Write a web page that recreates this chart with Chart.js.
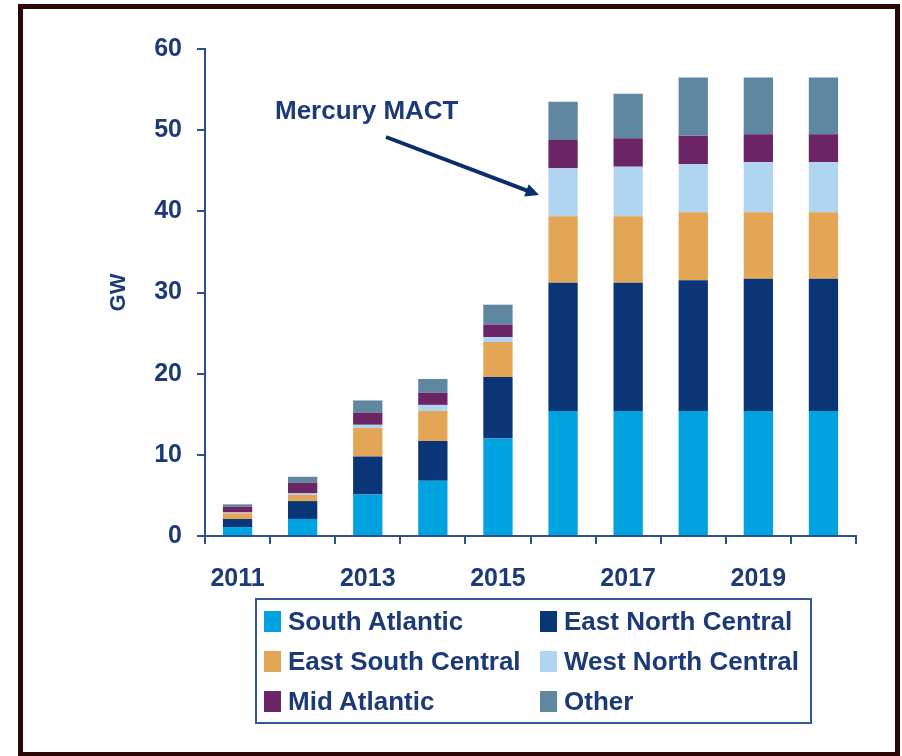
<!DOCTYPE html>
<html>
<head>
<meta charset="utf-8">
<script src="https://cdn.jsdelivr.net/npm/chart.js@4.4.1/dist/chart.umd.min.js"></script>
<style>
  body { margin: 0; background: #fff; }
  #wrap { position: relative; width: 902px; height: 756px; overflow: hidden; background: #fff; }
  #chart { position: absolute; left: 0; top: 0; }
  #frame { position: absolute; left: 18px; top: 4px; width: 872px; height: 743px; border: 5px solid #2b0606; pointer-events: none; }
  #legend {
    position: absolute; left: 255px; top: 598px; width: 553px; height: 121px;
    border: 2px solid #34589a; padding-top: 1px; box-sizing: content-box;
    display: grid; grid-template-columns: 276px auto; grid-auto-rows: 40px;
    font: bold 26px "Liberation Sans", Arial, sans-serif; color: #1c3a78;
  }
  #legend .item { display: flex; align-items: center; padding-left: 7px; white-space: nowrap; }
  #legend .box { width: 17px; height: 21px; margin-right: 7px; flex: none; }
</style>
</head>
<body>
<div id="wrap">
  <canvas id="chart" width="902" height="756"></canvas>
  <div id="legend"></div>
  <div id="frame"></div>
</div>
<script>
const years = ['2011', '2012', '2013', '2014', '2015', '2016', '2017', '2018', '2019', '2020'];
const shownYears = ['2011', '', '2013', '', '2015', '', '2017', '', '2019', ''];

const southAtlantic    = [1.1, 2.1, 5.1, 6.8, 12.0, 15.4, 15.4, 15.4, 15.4, 15.4];
const eastNorthCentral = [1.0, 2.2, 4.7, 4.9, 7.6, 15.8, 15.8, 16.1, 16.3, 16.3];
const eastSouthCentral = [0.7, 0.75, 3.5, 3.7, 4.3, 8.2, 8.2, 8.4, 8.2, 8.2];
const westNorthCentral = [0.1, 0.2, 0.4, 0.75, 0.6, 5.9, 6.1, 5.9, 6.15, 6.15];
const midAtlantic      = [0.7, 1.3, 1.5, 1.5, 1.55, 3.5, 3.5, 3.5, 3.45, 3.45];
const other            = [0.3, 0.75, 1.5, 1.7, 2.45, 4.7, 5.5, 7.2, 7.0, 7.0];

const noteText = 'Mercury MACT';

const axisColor = '#2e5090';
const textColor = '#1c3a78';
const fontFamily = '"Liberation Sans", Arial, sans-serif';

const series = [
    { label: 'South Atlantic', data: southAtlantic, color: '#00a3e0' },
    { label: 'East North Central', data: eastNorthCentral, color: '#0a3577' },
    { label: 'East South Central', data: eastSouthCentral, color: '#e2a656' },
    { label: 'West North Central', data: westNorthCentral, color: '#afd5f0' },
    { label: 'Mid Atlantic', data: midAtlantic, color: '#6b2466' },
    { label: 'Other', data: other, color: '#5f87a0' }
];

// arrow + text for the annotation
const notePlugin = {
    id: 'mercuryNote',
    afterDraw(chart) {
        const ctx = chart.ctx;
        const x = chart.scales.x;
        const y = chart.scales.y;
        ctx.save();
        ctx.font = 'bold 26px ' + fontFamily;
        ctx.fillStyle = textColor;
        ctx.textBaseline = 'middle';
        ctx.fillText(noteText, 275, 112);

        const x0 = 386, y0 = 137;
        const x1 = x.getPixelForValue(5) - 24;
        const y1 = y.getPixelForValue(42);
        const ang = Math.atan2(y1 - y0, x1 - x0);
        const head = 15;
        ctx.strokeStyle = '#0b2d6b';
        ctx.fillStyle = '#0b2d6b';
        ctx.lineWidth = 4;
        ctx.beginPath();
        ctx.moveTo(x0, y0);
        ctx.lineTo(x1 - Math.cos(ang) * head * 0.8, y1 - Math.sin(ang) * head * 0.8);
        ctx.stroke();
        ctx.beginPath();
        ctx.moveTo(x1, y1);
        ctx.lineTo(x1 - head * Math.cos(ang - 0.45), y1 - head * Math.sin(ang - 0.45));
        ctx.lineTo(x1 - head * Math.cos(ang + 0.45), y1 - head * Math.sin(ang + 0.45));
        ctx.closePath();
        ctx.fill();
        ctx.restore();
    }
};

new Chart(document.getElementById('chart').getContext('2d'), {
    type: 'bar',
    data: {
        labels: years,
        datasets: series.map(s => ({
            label: s.label,
            data: s.data,
            backgroundColor: s.color,
            borderWidth: 0,
            barPercentage: 0.45,
            categoryPercentage: 1.0
        }))
    },
    options: {
        responsive: false,
        devicePixelRatio: 1,
        animation: false,
        events: [],
        layout: { padding: { left: 0, top: 49, right: 46, bottom: 0 } },
        plugins: {
            legend: { display: false },
            tooltip: { enabled: false }
        },
        scales: {
            x: {
                stacked: true,
                afterFit: function (scale) { scale.height = 220; },
                grid: { display: true, offset: true, drawOnChartArea: false, drawTicks: true, tickLength: 8, color: axisColor, lineWidth: 2 },
                border: { display: true, color: axisColor, width: 2 },
                ticks: {
                    autoSkip: false,
                    maxRotation: 0,
                    padding: 20,
                    color: textColor,
                    font: { family: fontFamily, size: 25, weight: 'bold' },
                    callback: function (value, index) { return shownYears[index]; }
                }
            },
            y: {
                stacked: true,
                min: 0,
                max: 60,
                afterFit: function (scale) { scale.width = 205; },
                grid: { display: true, drawOnChartArea: false, drawTicks: true, tickLength: 8, color: axisColor, lineWidth: 2 },
                border: { display: true, color: axisColor, width: 2 },
                ticks: {
                    stepSize: 10,
                    padding: 15,
                    color: textColor,
                    font: { family: fontFamily, size: 25, weight: 'bold' }
                },
                title: {
                    display: true,
                    text: 'GW',
                    color: textColor,
                    align: 'center',
                    padding: { top: 106, bottom: 0 },
                    font: { family: fontFamily, size: 22, weight: 'bold' }
                }
            }
        }
    },
    plugins: [notePlugin]
});

// html legend, two columns
const legendEl = document.getElementById('legend');
series.forEach(s => {
    const item = document.createElement('div');
    item.className = 'item';
    const box = document.createElement('span');
    box.className = 'box';
    box.style.background = s.color;
    const txt = document.createElement('span');
    txt.textContent = s.label;
    item.appendChild(box);
    item.appendChild(txt);
    legendEl.appendChild(item);
});
</script>
</body>
</html>
